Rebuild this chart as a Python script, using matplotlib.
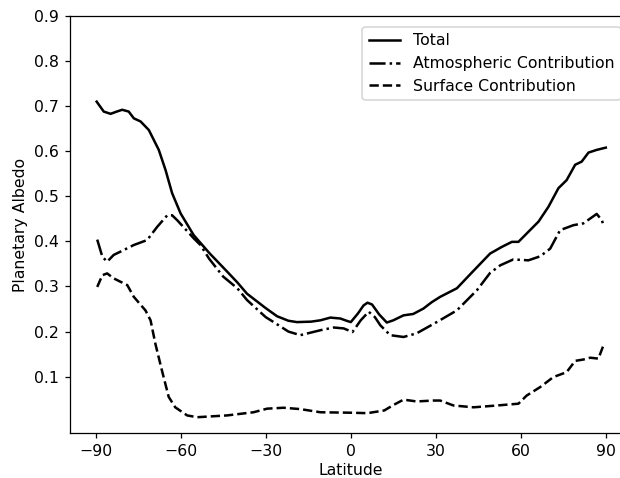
import numpy as np
import matplotlib
matplotlib.use("Agg")
import matplotlib.pyplot as plt

# values
lat_total = [-89.6, -87.1, -84.7, -82.5, -80.6, -78.3, -76.5, -74.1, -71.2, -67.7, -65.3, -63,
             -60, -55.4, -50, -43.6, -40, -36.6, -30, -26, -22, -19, -14, -10.7, -7.2, -3.7,
             -1.5, 0, 2.5, 4.5, 5.9, 7.5, 10, 12.7, 15, 18.6, 22, 25.6, 28.5, 31.5, 37.4, 43.3,
             49.1, 53.3, 56.8, 59.1, 63.2, 66.2, 69.7, 73.2, 76.1, 79.1, 81.4, 83.8, 86.7, 89.9]
total = [0.710, 0.688, 0.683, 0.688, 0.692, 0.688, 0.673, 0.666, 0.647, 0.603, 0.558, 0.507,
         0.462, 0.414, 0.375, 0.333, 0.309, 0.284, 0.252, 0.234, 0.224, 0.221, 0.222, 0.225,
         0.231, 0.229, 0.224, 0.221, 0.240, 0.258, 0.264, 0.260, 0.238, 0.220, 0.225, 0.236,
         0.239, 0.251, 0.265, 0.277, 0.296, 0.335, 0.373, 0.388, 0.399, 0.399, 0.425, 0.444,
         0.477, 0.518, 0.536, 0.570, 0.577, 0.597, 0.603, 0.608]

lat_atm = [-89.4, -87.6, -85.9, -83.6, -80, -76.5, -71.8, -68.3, -64.7, -63, -61.2, -55.4,
           -53, -50, -45, -40, -36.6, -30, -27.2, -22, -17.8, -10.7, -6, -2.5, 0.6, 3.5, 6.3,
           8.5, 10.4, 13.9, 18.6, 23.2, 30.3, 37.4, 44.5, 49.1, 52.7, 57.3, 62.6, 66.8, 70.3,
           73.8, 78.5, 82, 86.7, 88.5, 89.1]
atm = [0.404, 0.366, 0.355, 0.370, 0.381, 0.392, 0.403, 0.432, 0.458, 0.458, 0.447, 0.407,
       0.392, 0.362, 0.322, 0.296, 0.270, 0.232, 0.221, 0.200, 0.192, 0.203, 0.209, 0.207,
       0.199, 0.225, 0.244, 0.232, 0.214, 0.192, 0.188, 0.196, 0.221, 0.247, 0.292, 0.330,
       0.347, 0.360, 0.358, 0.367, 0.384, 0.425, 0.436, 0.440, 0.461, 0.447, 0.436]

lat_surf = [-89.4, -87.6, -85.9, -83.6, -78.8, -76.5, -72.4, -70.6, -68.9, -66.6, -64.2, -61.9,
            -57.7, -54.2, -43.6, -34.3, -29.5, -23.7, -17.8, -10.7, 0, 5.9, 11.8, 15, 18.6,
            23.2, 29.1, 31.5, 36.2, 43.3, 51.5, 59.1, 62, 66.8, 71.4, 76.1, 79.1, 82, 84.4,
            87.3, 89.1]
surf = [0.299, 0.325, 0.329, 0.318, 0.303, 0.277, 0.247, 0.225, 0.173, 0.114, 0.055, 0.032,
        0.014, 0.010, 0.014, 0.021, 0.029, 0.031, 0.028, 0.021, 0.020, 0.019, 0.025, 0.037,
        0.049, 0.045, 0.047, 0.047, 0.036, 0.032, 0.036, 0.040, 0.058, 0.077, 0.099, 0.110,
        0.135, 0.138, 0.142, 0.140, 0.170]

dpi = 113
fig = plt.figure(figsize=(620 / dpi, 478 / dpi), dpi=dpi)
# the original figure is cut at the right, so the axes run past the edge
ax = fig.add_axes([70 / 620, 45 / 478, 561.6 / 620, 417 / 478])

ax.plot(lat_total, total, '-', color='black', lw=1.6, label='Total')
ax.plot(lat_atm, atm, '-.', color='black', lw=1.6, label='Atmospheric Contribution')
ax.plot(lat_surf, surf, '--', color='black', lw=1.6, label='Surface Contribution')

ax.set_xlim(-99, 99)
ax.set_ylim(-0.025, 0.9)
ax.set_xticks(np.arange(-90, 91, 30))
ax.set_yticks(np.arange(0.1, 0.91, 0.1))
ax.set_xlabel('Latitude', labelpad=2.5)
ax.set_ylabel('Planetary Albedo')
ax.legend(loc='upper right', borderaxespad=0.7)

fig.savefig('out.png', dpi=dpi)
